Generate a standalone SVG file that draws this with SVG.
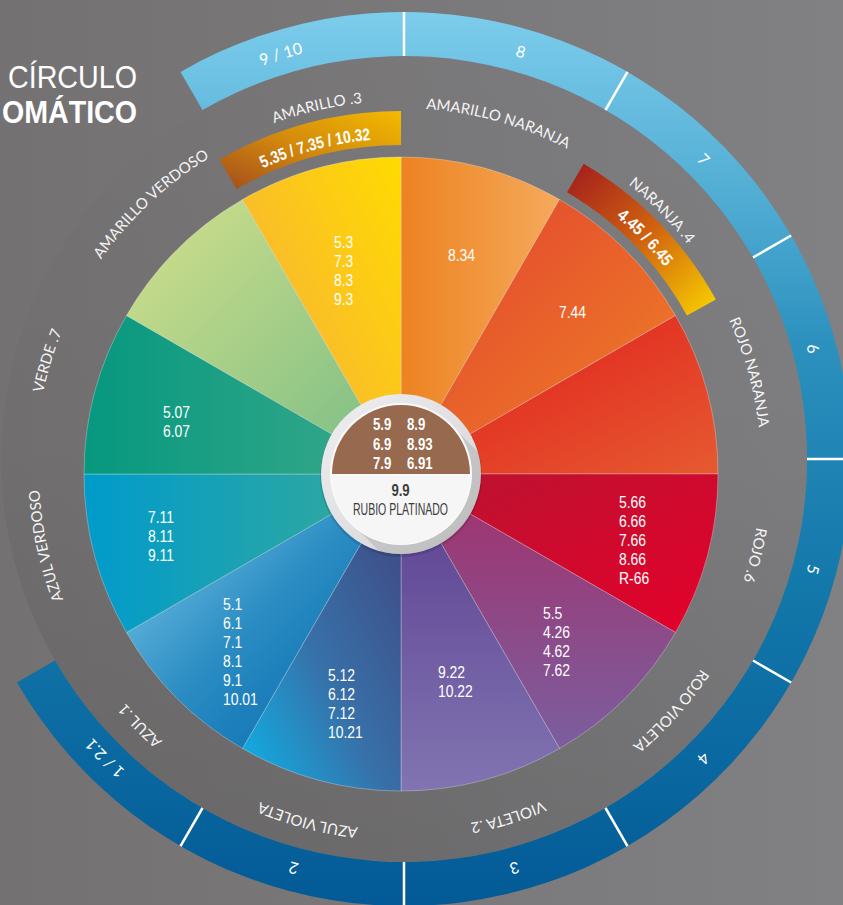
<svg xmlns="http://www.w3.org/2000/svg" xmlns:xlink="http://www.w3.org/1999/xlink" width="843" height="905" viewBox="0 0 843 905">
<style>
.lab{font-family:Lato,"Liberation Sans",sans-serif;font-weight:normal;font-size:15px;fill:#f4f4f4}
.num{font-family:Lato,"Liberation Sans",sans-serif;font-weight:normal;font-size:16px;fill:#ffffff}
.band{font-family:"Liberation Sans",sans-serif;font-weight:bold;font-size:17px;fill:#ffffff}
.val{font-family:"Liberation Sans",Arial,sans-serif;font-size:17px;fill:#ffffff}
.cv{font-family:"Liberation Sans",Arial,sans-serif;font-weight:bold;font-size:16.5px;fill:#ffffff}
.cd{font-family:"Liberation Sans",Arial,sans-serif;font-size:16px;fill:#3c3c3c}
.seg{stroke:#ffffff;stroke-opacity:0.35;stroke-width:0.8}
.div{stroke:#ffffff;stroke-width:2.5}
.title{font-family:"Liberation Sans",Arial,sans-serif;fill:#ffffff}
</style>
<defs>
<linearGradient id="bg" x1="0" y1="0" x2="1" y2="0"><stop offset="0" stop-color="#737172"/><stop offset="1" stop-color="#818082"/></linearGradient>
<linearGradient id="shade" x1="0" y1="0" x2="0" y2="1"><stop offset="0" stop-color="#000" stop-opacity="0"/><stop offset="0.5" stop-color="#000" stop-opacity="0.03"/><stop offset="1" stop-color="#000" stop-opacity="0.12"/></linearGradient>
<linearGradient id="ring" gradientUnits="userSpaceOnUse" x1="0" y1="12" x2="0" y2="905"><stop offset="0" stop-color="#7dcdec"/><stop offset="0.21" stop-color="#50acd3"/><stop offset="0.37" stop-color="#2c91be"/><stop offset="0.64" stop-color="#1378aa"/><stop offset="0.84" stop-color="#0a68a0"/><stop offset="1" stop-color="#035a96"/></linearGradient>
<linearGradient id="gy" x1="0" y1="1" x2="1" y2="0"><stop offset="0" stop-color="#a24d1c"/><stop offset="0.5" stop-color="#d38a0c"/><stop offset="1" stop-color="#f4ba00"/></linearGradient>
<linearGradient id="go" x1="0" y1="0" x2="1" y2="1"><stop offset="0" stop-color="#a01b1d"/><stop offset="0.5" stop-color="#d0620f"/><stop offset="1" stop-color="#fad400"/></linearGradient>
<linearGradient id="g1" x1="0" y1="0" x2="1" y2="0"><stop offset="0" stop-color="#ed8221"/><stop offset="1" stop-color="#f5aa5c"/></linearGradient>
<linearGradient id="g2" x1="0" y1="0" x2="1" y2="1"><stop offset="0" stop-color="#e3402f"/><stop offset="1" stop-color="#ee8426"/></linearGradient>
<linearGradient id="g3" x1="0" y1="0" x2="1" y2="1"><stop offset="0" stop-color="#e0191b"/><stop offset="1" stop-color="#e65a30"/></linearGradient>
<linearGradient id="g4" x1="0" y1="0" x2="1" y2="1"><stop offset="0" stop-color="#b91431"/><stop offset="1" stop-color="#e4002a"/></linearGradient>
<linearGradient id="g5" x1="0" y1="0" x2="0" y2="1"><stop offset="0" stop-color="#a3306a"/><stop offset="1" stop-color="#7b5e9f"/></linearGradient>
<linearGradient id="g6" x1="0" y1="0" x2="0" y2="1"><stop offset="0" stop-color="#5a3e90"/><stop offset="1" stop-color="#8174b1"/></linearGradient>
<linearGradient id="g7" x1="1" y1="0" x2="0" y2="1"><stop offset="0" stop-color="#40447f"/><stop offset="0.55" stop-color="#3870a8"/><stop offset="1" stop-color="#0bb4e8"/></linearGradient>
<linearGradient id="g8" x1="0" y1="0" x2="1" y2="1"><stop offset="0" stop-color="#8cd4f3"/><stop offset="0.5" stop-color="#2a8cc2"/><stop offset="1" stop-color="#0062aa"/></linearGradient>
<linearGradient id="g9" x1="0" y1="0" x2="1" y2="0"><stop offset="0" stop-color="#009bcb"/><stop offset="1" stop-color="#38aa98"/></linearGradient>
<linearGradient id="g10" x1="0" y1="0" x2="1" y2="0"><stop offset="0" stop-color="#06987f"/><stop offset="1" stop-color="#3aa98a"/></linearGradient>
<linearGradient id="g11" x1="0" y1="0" x2="1" y2="1"><stop offset="0" stop-color="#d4e08a"/><stop offset="1" stop-color="#76bc86"/></linearGradient>
<linearGradient id="g12" x1="1" y1="0" x2="0" y2="1"><stop offset="0" stop-color="#ffdb00"/><stop offset="1" stop-color="#f6a846"/></linearGradient>
<linearGradient id="disc" x1="0" y1="0" x2="1" y2="1"><stop offset="0" stop-color="#efeff1"/><stop offset="1" stop-color="#d2d2d4"/></linearGradient>
<clipPath id="outerDisc"><circle cx="401" cy="474" r="80"/></clipPath>
<clipPath id="ringIn"><circle cx="404" cy="459" r="403"/></clipPath>
<path id="pLab" d="M400,108 A361,361 0 1 1 400,830 A361,361 0 1 1 400,108"/>
<path id="pLab2" d="M400,104 A365,365 0 1 1 400,834 A365,365 0 1 1 400,104"/>
<path id="pLab3" d="M400,101 A368,368 0 1 1 400,837 A368,368 0 1 1 400,101"/>
<path id="pNum" d="M404,41 A418,418 0 1 1 404,877 A418,418 0 1 1 404,41"/>
<path id="pBand" d="M401,138.5 A335.5,335.5 0 1 1 401,809.5 A335.5,335.5 0 1 1 401,138.5"/>
</defs>

<rect x="0" y="0" width="843" height="905" fill="url(#bg)"/>
<rect x="0" y="0" width="843" height="905" fill="url(#shade)" clip-path="url(#ringIn)"/>

<g id="title">
<text class="title" x="137" y="88" text-anchor="end" font-size="31" textLength="129" lengthAdjust="spacingAndGlyphs">CÍRCULO</text>
<text class="title" x="137" y="123" text-anchor="end" font-size="32" font-weight="bold" textLength="135" lengthAdjust="spacingAndGlyphs">OMÁTICO</text>
</g>

<g id="outer-ring">
<path d="M180.5,71.9 A447,447 0 1 1 16.9,682.5 L55,660.5 A403,403 0 1 0 202.5,110 Z" fill="url(#ring)"/>
<g id="ring-dividers">
<line class="div" x1="404" y1="12" x2="404" y2="56"/>
<line class="div" x1="627.5" y1="71.9" x2="605.5" y2="110"/>
<line class="div" x1="791.1" y1="235.5" x2="753" y2="257.5"/>
<line class="div" x1="851" y1="459" x2="807" y2="459"/>
<line class="div" x1="791.1" y1="682.5" x2="753" y2="660.5"/>
<line class="div" x1="627.5" y1="846.1" x2="605.5" y2="808"/>
<line class="div" x1="404" y1="906" x2="404" y2="862"/>
<line class="div" x1="180.5" y1="846.1" x2="202.5" y2="808"/>
</g>
<text class="num"><textPath href="#pNum" xlink:href="#pNum" startOffset="95.3%" text-anchor="middle">9 / 10</textPath></text>
<text class="num"><textPath href="#pNum" xlink:href="#pNum" startOffset="4.44%" text-anchor="middle">8</textPath></text>
<text class="num"><textPath href="#pNum" xlink:href="#pNum" startOffset="12.5%" text-anchor="middle">7</textPath></text>
<text class="num"><textPath href="#pNum" xlink:href="#pNum" startOffset="20.8%" text-anchor="middle">6</textPath></text>
<text class="num"><textPath href="#pNum" xlink:href="#pNum" startOffset="29.2%" text-anchor="middle">5</textPath></text>
<text class="num"><textPath href="#pNum" xlink:href="#pNum" startOffset="37.5%" text-anchor="middle">4</textPath></text>
<text class="num"><textPath href="#pNum" xlink:href="#pNum" startOffset="45.8%" text-anchor="middle">3</textPath></text>
<text class="num"><textPath href="#pNum" xlink:href="#pNum" startOffset="54.2%" text-anchor="middle">2</textPath></text>
<text class="num"><textPath href="#pNum" xlink:href="#pNum" startOffset="62.5%" text-anchor="middle">1 / 2.1</textPath></text>
</g>

<g id="ring-labels">
<text class="lab"><textPath href="#pLab" xlink:href="#pLab" startOffset="4.4%" text-anchor="middle">AMARILLO NARANJA</textPath></text>
<text class="lab"><textPath href="#pLab2" xlink:href="#pLab2" startOffset="12.6%" text-anchor="middle">NARANJA .4</textPath></text>
<text class="lab"><textPath href="#pLab" xlink:href="#pLab" startOffset="20.7%" text-anchor="middle">ROJO NARANJA</textPath></text>
<text class="lab"><textPath href="#pLab" xlink:href="#pLab" startOffset="28.8%" text-anchor="middle">ROJO .6</textPath></text>
<text class="lab"><textPath href="#pLab" xlink:href="#pLab" startOffset="36.6%" text-anchor="middle">ROJO VIOLETA</textPath></text>
<text class="lab"><textPath href="#pLab" xlink:href="#pLab" startOffset="45.2%" text-anchor="middle">VIOLETA .2</textPath></text>
<text class="lab"><textPath href="#pLab" xlink:href="#pLab" startOffset="54.1%" text-anchor="middle">AZUL VIOLETA</textPath></text>
<text class="lab"><textPath href="#pLab" xlink:href="#pLab" startOffset="62.6%" text-anchor="middle">AZUL .1</textPath></text>
<text class="lab"><textPath href="#pLab" xlink:href="#pLab" startOffset="71.6%" text-anchor="middle">AZUL VERDOSO</textPath></text>
<text class="lab"><textPath href="#pLab2" xlink:href="#pLab2" startOffset="79.75%" text-anchor="middle">VERDE .7</textPath></text>
<text class="lab"><textPath href="#pLab2" xlink:href="#pLab2" startOffset="88%" text-anchor="middle">AMARILLO VERDOSO</textPath></text>
<text class="lab"><textPath href="#pLab3" xlink:href="#pLab3" startOffset="96.4%" text-anchor="middle">AMARILLO .3</textPath></text>
</g>

<g id="band-amarillo">
<path d="M219.5,159.6 A363,363 0 0 1 401,111 L401,145 A329,329 0 0 0 236.5,189.1 Z" fill="url(#gy)"/>
<text class="band"><textPath href="#pBand" xlink:href="#pBand" startOffset="95.9%" text-anchor="middle" textLength="112" lengthAdjust="spacingAndGlyphs">5.35 / 7.35 / 10.32</textPath></text>
</g>
<g id="band-naranja">
<path d="M583.7,163.8 A360,360 0 0 1 715.9,299.5 L687,315.5 A327,327 0 0 0 567,192.3 Z" fill="url(#go)"/>
<text class="band"><textPath href="#pBand" xlink:href="#pBand" startOffset="12.75%" text-anchor="middle" textLength="70" lengthAdjust="spacingAndGlyphs">4.45 / 6.45</textPath></text>
</g>

<g id="wheel">
<path class="seg" d="M401,474 L401,157 A317,317 0 0 1 559.5,199.5 Z" fill="url(#g1)"/>
<path class="seg" d="M401,474 L559.5,199.5 A317,317 0 0 1 675.5,315.5 Z" fill="url(#g2)"/>
<path class="seg" d="M401,474 L675.5,315.5 A317,317 0 0 1 718,474 Z" fill="url(#g3)"/>
<path class="seg" d="M401,474 L718,474 A317,317 0 0 1 675.5,632.5 Z" fill="url(#g4)"/>
<path class="seg" d="M401,474 L675.5,632.5 A317,317 0 0 1 559.5,748.5 Z" fill="url(#g5)"/>
<path class="seg" d="M401,474 L559.5,748.5 A317,317 0 0 1 401,791 Z" fill="url(#g6)"/>
<path class="seg" d="M401,474 L401,791 A317,317 0 0 1 242.5,748.5 Z" fill="url(#g7)"/>
<path class="seg" d="M401,474 L242.5,748.5 A317,317 0 0 1 126.5,632.5 Z" fill="url(#g8)"/>
<path class="seg" d="M401,474 L126.5,632.5 A317,317 0 0 1 84,474 Z" fill="url(#g9)"/>
<path class="seg" d="M401,474 L84,474 A317,317 0 0 1 126.5,315.5 Z" fill="url(#g10)"/>
<path class="seg" d="M401,474 L126.5,315.5 A317,317 0 0 1 242.5,199.5 Z" fill="url(#g11)"/>
<path class="seg" d="M401,474 L242.5,199.5 A317,317 0 0 1 401,157 Z" fill="url(#g12)"/>
</g>

<g id="wheel-values">
<text class="val" transform="translate(448,0) scale(0.82,1)" x="0" y="261">8.34</text>
<text class="val" transform="translate(559,0) scale(0.82,1)" x="0" y="318">7.44</text>
<text class="val" transform="translate(334,0) scale(0.82,1)"><tspan x="0" y="248">5.3</tspan><tspan x="0" y="267">7.3</tspan><tspan x="0" y="286">8.3</tspan><tspan x="0" y="305">9.3</tspan></text>
<text class="val" transform="translate(163,0) scale(0.82,1)"><tspan x="0" y="418">5.07</tspan><tspan x="0" y="437">6.07</tspan></text>
<text class="val" transform="translate(148,0) scale(0.82,1)"><tspan x="0" y="523">7.11</tspan><tspan x="0" y="542">8.11</tspan><tspan x="0" y="561">9.11</tspan></text>
<text class="val" transform="translate(223,0) scale(0.82,1)"><tspan x="0" y="610">5.1</tspan><tspan x="0" y="629">6.1</tspan><tspan x="0" y="648">7.1</tspan><tspan x="0" y="667">8.1</tspan><tspan x="0" y="686">9.1</tspan><tspan x="0" y="705">10.01</tspan></text>
<text class="val" transform="translate(328,0) scale(0.82,1)"><tspan x="0" y="681">5.12</tspan><tspan x="0" y="700">6.12</tspan><tspan x="0" y="719">7.12</tspan><tspan x="0" y="738">10.21</tspan></text>
<text class="val" transform="translate(438,0) scale(0.82,1)"><tspan x="0" y="678">9.22</tspan><tspan x="0" y="697">10.22</tspan></text>
<text class="val" transform="translate(543,0) scale(0.82,1)"><tspan x="0" y="619">5.5</tspan><tspan x="0" y="638">4.26</tspan><tspan x="0" y="657">4.62</tspan><tspan x="0" y="676">7.62</tspan></text>
<text class="val" transform="translate(619,0) scale(0.82,1)"><tspan x="0" y="508">5.66</tspan><tspan x="0" y="527">6.66</tspan><tspan x="0" y="546">7.66</tspan><tspan x="0" y="565">8.66</tspan><tspan x="0" y="584">R-66</tspan></text>
</g>

<g id="center">
<circle cx="401" cy="476" r="81" fill="#000" opacity="0.12"/>
<circle cx="401" cy="474" r="80" fill="url(#disc)"/>
<g clip-path="url(#outerDisc)">
<polygon points="450.5,424.5 650,624 551,723 351.5,523.5" fill="#000" opacity="0.1"/>
</g>
<circle cx="401" cy="474" r="71" fill="#fafafa"/>
<path d="M332,474 A69,69 0 0 1 470,474 Z" fill="#976a4f"/>
<path d="M332,475 A69,69 0 0 0 470,475 Z" fill="#f6f6f6"/>
<text class="cv" transform="translate(373,0) scale(0.8,1)"><tspan x="0" y="430">5.9</tspan><tspan x="0" y="450">6.9</tspan><tspan x="0" y="469">7.9</tspan></text>
<text class="cv" transform="translate(407,0) scale(0.8,1)"><tspan x="0" y="430">8.9</tspan><tspan x="0" y="450">8.93</tspan><tspan x="0" y="469">6.91</tspan></text>
<text class="cd" transform="translate(400.5,0) scale(0.82,1)" x="0" y="496" text-anchor="middle" font-weight="bold">9.9</text>
<text class="cd" x="400.5" y="515" text-anchor="middle" textLength="95" lengthAdjust="spacingAndGlyphs">RUBIO PLATINADO</text>
</g>
</svg>
